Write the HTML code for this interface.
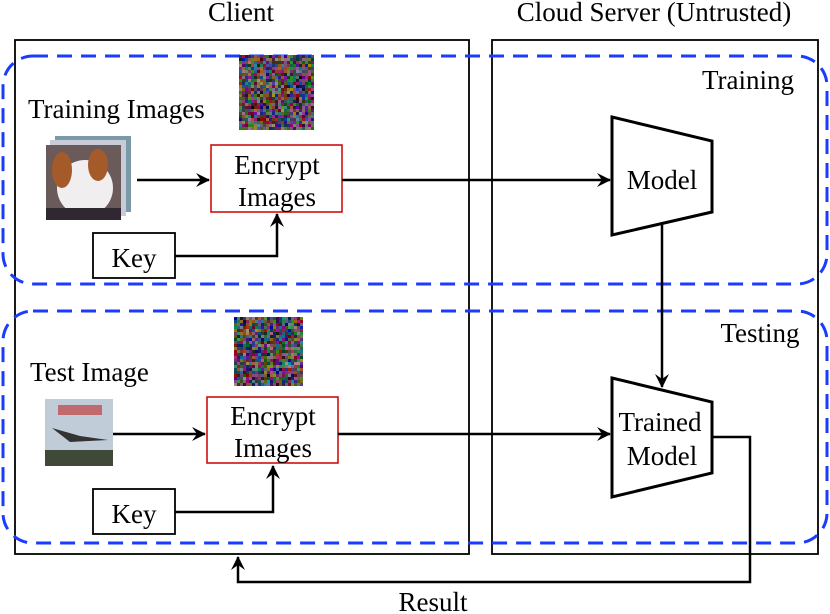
<!DOCTYPE html>
<html><head><meta charset="utf-8"><style>
html,body{margin:0;padding:0;background:#fff;}
svg{display:block;font-family:"Liberation Serif",serif;}
</style></head><body>
<svg id="s" width="830" height="614" viewBox="0 0 830 614" xmlns="http://www.w3.org/2000/svg">
<defs>
<marker id="a" markerWidth="16" markerHeight="16" refX="13" refY="8" orient="auto" markerUnits="userSpaceOnUse">
<path d="M0,1 L14,8 L0,15 L5,8 Z" fill="#000"/></marker>
</defs>
<g font-size="27">
<text x="241" y="21" text-anchor="middle">Client</text>
<text x="654" y="21" text-anchor="middle">Cloud Server (Untrusted)</text>
</g>
<rect x="15" y="40" width="454" height="514" fill="none" stroke="#000" stroke-width="1.8"/>
<rect x="492" y="40" width="326" height="514" fill="none" stroke="#000" stroke-width="1.8"/>
<rect x="3" y="56" width="824" height="228" rx="30" fill="none" stroke="#1a3cff" stroke-width="3" stroke-dasharray="15,9"/>
<rect x="3" y="311" width="824" height="232" rx="30" fill="none" stroke="#1a3cff" stroke-width="3" stroke-dasharray="15,9"/>
<g font-size="27">
<text x="748" y="89" text-anchor="middle">Training</text>
<text x="760" y="342" text-anchor="middle">Testing</text>
</g>
<g id="n1"><rect x="239" y="55" width="75" height="75" fill="#5a4a60"/></g>
<g id="n2"><rect x="234" y="317" width="67" height="67" fill="#5a4a60"/></g>
<text x="28" y="118" font-size="27">Training Images</text>
<rect x="55" y="136" width="76" height="76" fill="#7a9aa8"/>
<rect x="50" y="140" width="76" height="76" fill="#c8ccd8"/>
<rect x="46" y="145" width="75" height="75" fill="#6a5a5a"/>
<ellipse cx="85" cy="188" rx="28" ry="28" fill="#f0eeee"/>
<ellipse cx="62" cy="170" rx="10" ry="18" fill="#a55a2a"/>
<ellipse cx="98" cy="165" rx="10" ry="16" fill="#a55a2a"/>
<rect x="46" y="208" width="75" height="12" fill="#302830"/>
<line x1="137" y1="180" x2="209" y2="180" stroke="#000" stroke-width="2.5" marker-end="url(#a)"/>
<rect x="211" y="145" width="131" height="67" fill="#fff" stroke="#c00" stroke-width="1.5"/>
<text x="277" y="174" font-size="27" text-anchor="middle">Encrypt</text>
<text x="277" y="206" font-size="27" text-anchor="middle">Images</text>
<rect x="93" y="233" width="82" height="45" fill="#fff" stroke="#000" stroke-width="1.8"/>
<text x="134" y="267" font-size="27" text-anchor="middle">Key</text>
<polyline points="175,256 277,256 277,214" fill="none" stroke="#000" stroke-width="2.5" marker-end="url(#a)"/>
<line x1="342" y1="180" x2="610" y2="180" stroke="#000" stroke-width="2.5" marker-end="url(#a)"/>
<polygon points="612,117 712,141 712,212 612,235" fill="#fff" stroke="#000" stroke-width="3"/>
<text x="662" y="189" font-size="27" text-anchor="middle">Model</text>
<line x1="662" y1="224" x2="662" y2="387" stroke="#000" stroke-width="2.5" marker-end="url(#a)"/>
<text x="30" y="381" font-size="27">Test Image</text>
<rect x="45" y="399" width="68" height="67" fill="#c0ccd8"/>
<rect x="58" y="405" width="44" height="10" fill="#c04040" opacity="0.7"/>
<path d="M52,428 L80,436 L108,440 L70,442 Z" fill="#333"/>
<rect x="45" y="450" width="68" height="16" fill="#404838"/>
<line x1="113" y1="434" x2="205" y2="434" stroke="#000" stroke-width="2.5" marker-end="url(#a)"/>
<rect x="207" y="397" width="131" height="66" fill="#fff" stroke="#c00" stroke-width="1.5"/>
<text x="273" y="425" font-size="27" text-anchor="middle">Encrypt</text>
<text x="273" y="457" font-size="27" text-anchor="middle">Images</text>
<rect x="93" y="489" width="82" height="45" fill="#fff" stroke="#000" stroke-width="1.8"/>
<text x="134" y="523" font-size="27" text-anchor="middle">Key</text>
<polyline points="175,512 273,512 273,466" fill="none" stroke="#000" stroke-width="2.5" marker-end="url(#a)"/>
<line x1="338" y1="434" x2="610" y2="434" stroke="#000" stroke-width="2.5" marker-end="url(#a)"/>
<polygon points="612,378 712,402 712,473 612,497" fill="#fff" stroke="#000" stroke-width="3"/>
<text x="660" y="431" font-size="27" text-anchor="middle">Trained</text>
<text x="662" y="465" font-size="27" text-anchor="middle">Model</text>
<polyline points="712,437 750,437 750,582 238,582 238,557" fill="none" stroke="#000" stroke-width="2.5" marker-end="url(#a)"/>
<text x="433" y="611" font-size="27" text-anchor="middle">Result</text>
</svg>
<script>
function noise(id,x,y,w,h){var g=document.getElementById(id);var ns="http://www.w3.org/2000/svg";var s=3;var seed=id.length*7+x;function r(){seed=(seed*9301+49297)%233280;return seed/233280;}
for(var i=0;i<w;i+=s)for(var j=0;j<h;j+=s){var e=document.createElementNS(ns,"rect");e.setAttribute("x",x+i);e.setAttribute("y",y+j);e.setAttribute("width",s);e.setAttribute("height",s);
var c=[Math.floor(r()*170),Math.floor(r()*150),Math.floor(r()*170)];e.setAttribute("fill","rgb("+c.join(",")+")");g.appendChild(e);}}
noise("n1",239,55,75,75);noise("n2",234,317,67,67);
</script>
</body></html>
